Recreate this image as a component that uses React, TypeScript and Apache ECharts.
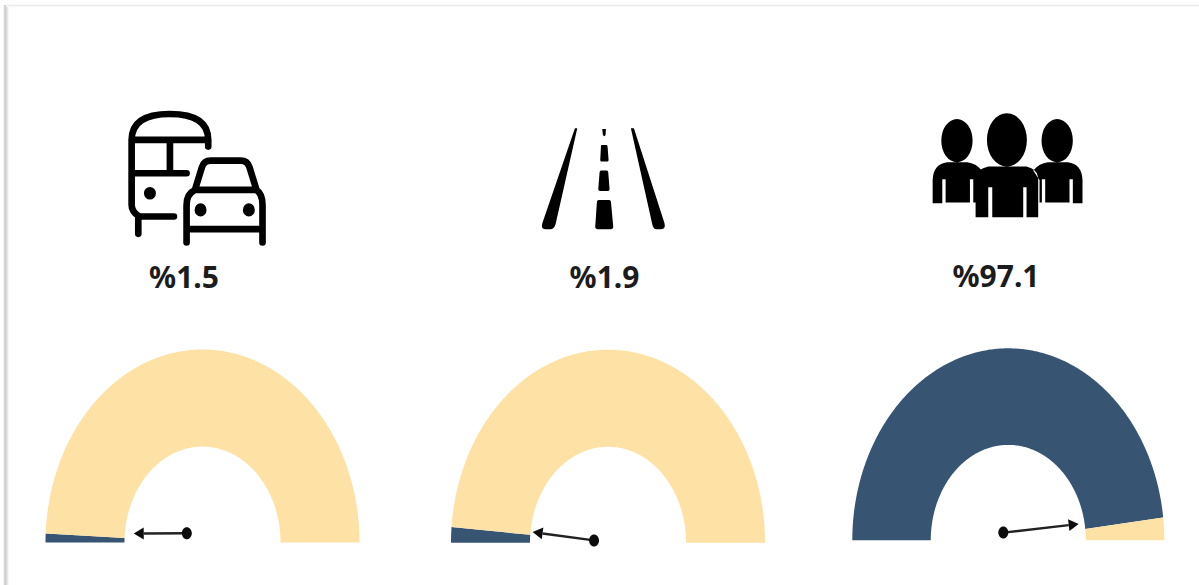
import React, { useEffect, useRef } from "react";
import * as echarts from "echarts";

// Data
const shareLabels = ["%1.5", "%1.9", "%97.1"];
const gaugeShares = [1.5, 2.6, 96.2]; // blue share of each half-ring, as drawn
const needleTails = [[-0.1, 0.048], [-0.089, 0.012], [-0.032, 0.04]];
const needleTips = [[-0.438, 0.047], [-0.48, 0.055], [0.451, 0.085]];

// Layout
const gaugeBoxes = [
  { left: 45.5, top: 349.5, width: 314, height: 193 },
  { left: 451, top: 349.7, width: 314, height: 193 },
  { left: 852.3, top: 348.3, width: 312, height: 192 },
];
const labelCenters = [184, 604.5, 996];
const labelY = [276, 276, 275.5];
const INNER = 0.497;
const BLUE = "#375573";
const CREAM = "#FEE1A5";
const INK = "#0c0c0c";

function ell(cx: number, cy: number, rx: number, ry: number) {
  return `M${cx - rx} ${cy}A${rx} ${ry} 0 1 0 ${cx + rx} ${cy}A${rx} ${ry} 0 1 0 ${cx - rx} ${cy}Z`;
}

const busLines =
  "M95 150L95 345Q95 365 118 380L222 380M115 385L115 432M95 150Q95 72 210 72Q325 72 325 150L325 170M95 150L325 150M210 150L210 250M95 250L260 250";
const carLines =
  "M285 300L306 232Q312 212 332 212L423 212Q443 212 449 232L470 300M285 300L470 300M285 300Q260 312 260 345L260 458M470 300Q488 312 488 345L488 458M260 418L488 418";
const transportDots = ell(150, 310, 18, 19) + ell(302, 360, 18, 20) + ell(447, 360, 18, 20);
const roadPath =
  "M165 55L172 55L107 342Q103 358 90 358L76 358Q62 358 67 340Z" +
  "M247 57L258 57L257 75Q253 82 249 75Z" +
  "M245 105L260 105Q263 105 263 110L266 150Q266 155 262 155L245 155Q241 155 241 150L243 110Q243 105 245 105Z" +
  "M243 182L261 182Q264 182 265 187L269 238Q269 243 264 243L240 243Q235 243 235 238L239 187Q240 182 243 182Z" +
  "M236 270L268 270Q272 270 273 275L280 350Q280 358 272 358L234 358Q226 358 226 350L231 275Q232 270 236 270Z" +
  "M333 55L342 55L434 340Q438 358 424 358L410 358Q400 358 397 342Z";
const peoplePath =
  ell(141, 122, 47, 65) + ell(291, 120, 60, 80) + ell(442, 122, 47, 65) +
  "M197 352L197 232Q200 208 235 200L350 200Q382 208 385 232L385 352L350 352L350 262L340 262L340 352L247 352L247 262L235 262L235 352Z" +
  "M68 310L68 240Q70 192 112 187L172 187Q198 190 216 212L197 240L197 308L190 308L190 238L180 238L180 308L107 308L107 238L97 238L97 310Z" +
  "M518 310L518 240Q516 192 474 187L414 187Q388 190 370 212L389 240L389 308L396 308L396 238L406 238L406 308L479 308L479 238L489 238L489 310Z";

echarts.graphic.registerShape("busLines", echarts.graphic.extendPath(busLines + carLines, {}));
echarts.graphic.registerShape("transportDots", echarts.graphic.extendPath(transportDots, {}));
echarts.graphic.registerShape("roadIcon", echarts.graphic.extendPath(roadPath, {}));
echarts.graphic.registerShape("peopleIcon", echarts.graphic.extendPath(peoplePath, {}));

function ringPoints(api: any, fromPct: number, toPct: number) {
  const pts: number[][] = [];
  const n = Math.max(2, Math.ceil(Math.abs(toPct - fromPct) * 3));
  const at = (p: number, r: number) => {
    const a = Math.PI * (1 - p / 100);
    return api.coord([r * Math.cos(a), r * Math.sin(a)]);
  };
  for (let i = 0; i <= n; i++) pts.push(at(fromPct + ((toPct - fromPct) * i) / n, 1));
  for (let i = n; i >= 0; i--) pts.push(at(fromPct + ((toPct - fromPct) * i) / n, INNER));
  return pts;
}

function renderRing(_params: any, api: any) {
  const from = api.value(0);
  const to = api.value(1);
  return {
    type: "polygon",
    shape: { points: ringPoints(api, from, to) },
    style: { fill: api.value(2) === 0 ? BLUE : CREAM, stroke: "none" },
  };
}

function renderNeedle(_params: any, api: any) {
  const tail = api.coord([api.value(0), api.value(1)]);
  const tip = api.coord([api.value(2), api.value(3)]);
  const dx = tip[0] - tail[0];
  const dy = tip[1] - tail[1];
  const len = Math.hypot(dx, dy);
  const ux = dx / len;
  const uy = dy / len;
  const headLen = 10;
  const headHalf = 6;
  const bx = tip[0] - ux * headLen;
  const by = tip[1] - uy * headLen;
  return {
    type: "group",
    children: [
      { type: "line", shape: { x1: tail[0], y1: tail[1], x2: bx, y2: by }, style: { stroke: "#222", lineWidth: 2.5 } },
      {
        type: "polygon",
        shape: { points: [tip, [bx - uy * headHalf, by + ux * headHalf], [bx + uy * headHalf, by - ux * headHalf]] },
        style: { fill: INK },
      },
      { type: "ellipse", shape: { cx: tail[0], cy: tail[1], rx: 5, ry: 6 }, style: { fill: INK } },
    ],
  };
}

export default function App() {
  const ref = useRef<HTMLDivElement>(null);
  useEffect(() => {
    document.body.style.margin = "0";
    const chart = echarts.init(ref.current!, null, { renderer: "svg" });
    const iconBase = { scaleX: 1 / 3, scaleY: 1 / 3 };
    chart.setOption({
      animation: false,
      backgroundColor: "#ffffff",
      grid: gaugeBoxes.map((b) => ({ ...b, show: false })),
      xAxis: gaugeBoxes.map((_, i) => ({ type: "value", gridIndex: i, min: -1, max: 1, show: false })),
      yAxis: gaugeBoxes.map((_, i) => ({ type: "value", gridIndex: i, min: 0, max: 1, show: false })),
      series: [
        ...gaugeShares.map((share, i) => ({
          type: "custom",
          xAxisIndex: i,
          yAxisIndex: i,
          renderItem: renderRing,
          silent: true,
          clip: false,
          encode: { x: [], y: [] },
          data: [[0, share, 0], [share, 100, 1]],
        })),
        ...gaugeShares.map((_, i) => ({
          type: "custom",
          xAxisIndex: i,
          yAxisIndex: i,
          renderItem: renderNeedle,
          silent: true,
          clip: false,
          encode: { x: [0, 2], y: [1, 3] },
          data: [[...needleTails[i], ...needleTips[i]]],
        })),
      ],
      graphic: [
        {
          type: "rect",
          shape: { x: 3, y: 5, width: 6, height: 580 },
          silent: true,
          style: {
            fill: new echarts.graphic.LinearGradient(0, 0, 1, 0, [
              { offset: 0, color: "#ffffff" },
              { offset: 0.35, color: "#c9c9c9" },
              { offset: 0.6, color: "#dcdcdc" },
              { offset: 1, color: "#ffffff" },
            ]),
          },
        },
        {
          type: "rect",
          shape: { x: 6, y: 4, width: 1193, height: 3 },
          silent: true,
          style: {
            fill: new echarts.graphic.LinearGradient(0, 0, 0, 1, [
              { offset: 0, color: "#ffffff" },
              { offset: 0.5, color: "#ececec" },
              { offset: 1, color: "#ffffff" },
            ]),
          },
        },
        {
          type: "busLines", x: 100, y: 90, ...iconBase,
          style: { fill: "none", stroke: "#000", lineWidth: 20, lineCap: "round", lineJoin: "round" },
        },
        { type: "transportDots", x: 100, y: 90, ...iconBase, style: { fill: "#000" } },
        { type: "roadIcon", x: 520, y: 110, ...iconBase, style: { fill: "#000" } },
        { type: "peopleIcon", x: 910, y: 100, ...iconBase, style: { fill: "#000" } },
        ...shareLabels.map((t, i) => ({
          type: "text",
          x: labelCenters[i],
          y: labelY[i],
          style: {
            text: t,
            fill: "#1c1c1c",
            font: "bold 30px 'Noto Sans'",
            textAlign: "center",
            textVerticalAlign: "middle",
          },
        })),
      ],
    });
    return () => chart.dispose();
  }, []);
  return <div ref={ref} style={{ width: 1199, height: 585 }} />;
}
